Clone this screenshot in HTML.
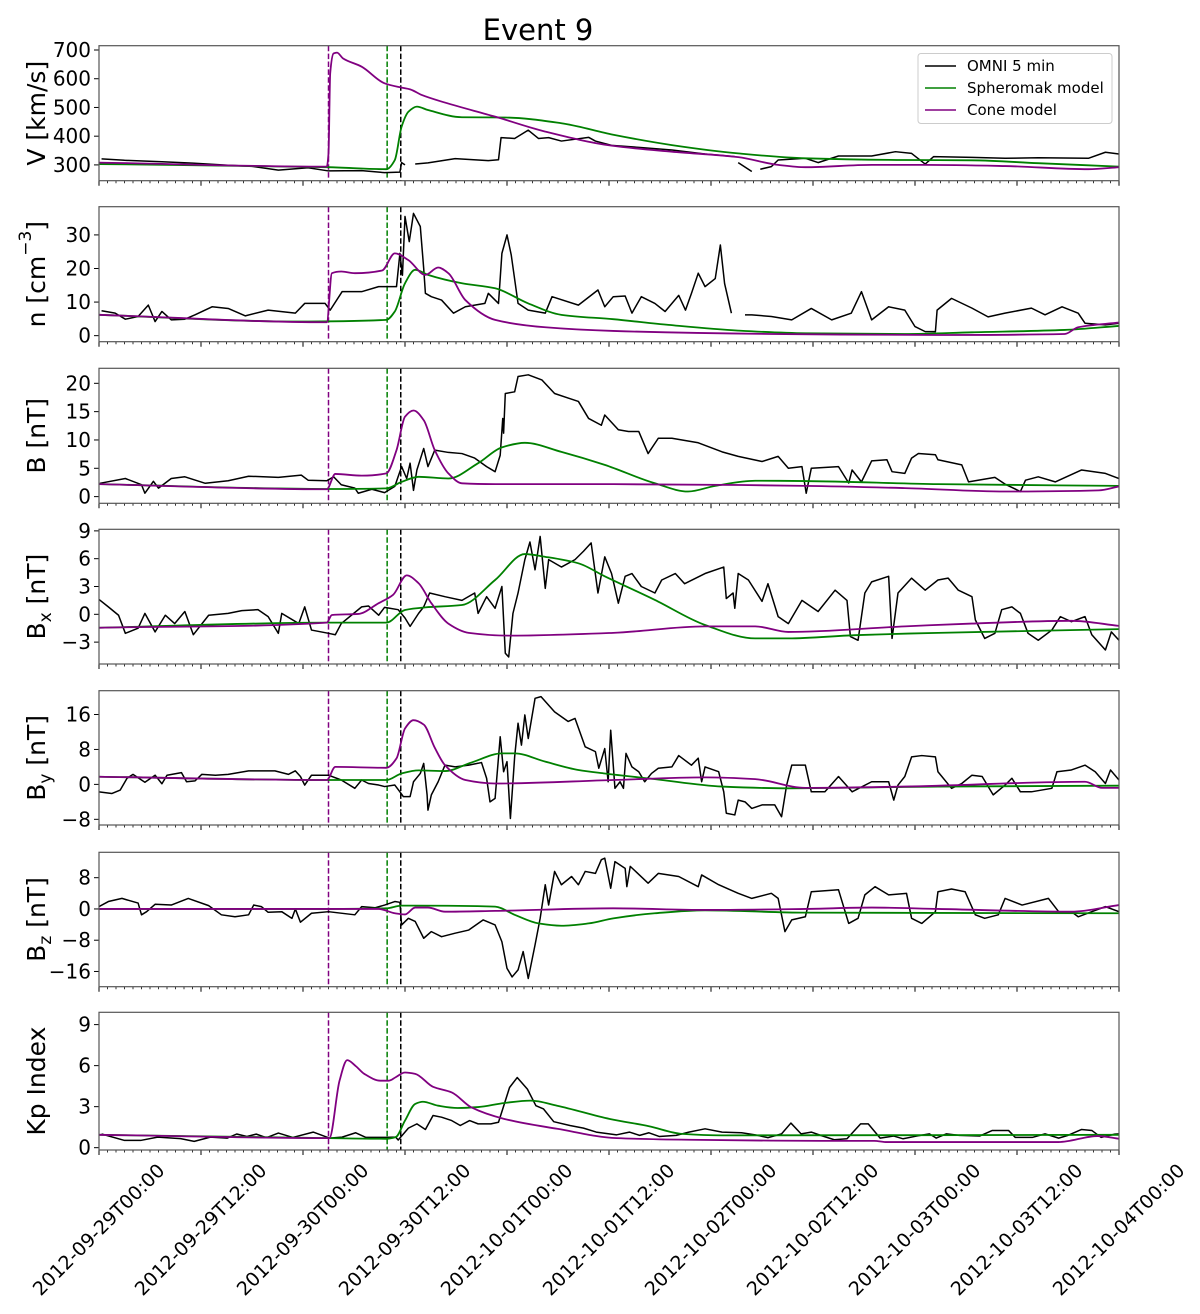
<!DOCTYPE html>
<html><head><meta charset="utf-8"><title>Event 9</title>
<style>
html,body{margin:0;padding:0;background:#fff;}
svg{display:block;font-family:"DejaVu Sans","Liberation Sans",sans-serif;}
</style></head>
<body>
<svg id="fig" width="1200" height="1314" viewBox="0 0 1200 1314" xmlns="http://www.w3.org/2000/svg">
<rect x="0" y="0" width="1200" height="1314" fill="#fff"/>
<text x="538" y="40" font-size="29" text-anchor="middle" fill="#000">Event 9</text>
</svg>
<script>
// ---------- time axis ----------
const xTickLabels = ["2012-09-29T00:00","2012-09-29T12:00","2012-09-30T00:00","2012-09-30T12:00","2012-10-01T00:00","2012-10-01T12:00","2012-10-02T00:00","2012-10-02T12:00","2012-10-03T00:00","2012-10-03T12:00","2012-10-04T00:00"];
const eventLineHours = [27, 33.9, 35.5];
// ---------- panel 1: V ----------
const vOmniT = [0.3,3,7.4,11,15.2,18,21.1,24.6,27,30.9,33.6,35.4,35.6,36,36.5,37.2,38.7,41.9,45.8,47,47.3,48.9,50.5,51.7,52.9,54.4,57.6,58.4,60.3,63.5,67.4,71.3,74.8,75,75.2,76.8,77.3,77.8,79.1,79.9,83.1,84.6,87,90.9,93.7,95.6,97.2,98.2,102.7,106.6,110.5,116.4,118.4,120];
const vOmni = [321,316,311,306,299,295,282,290,279,280,273,275,308,300,null,303,307,322,315,318,395,392,421,392,395,383,396,383,368,361,352,338,329,null,308,277,null,285,294,317,323,308,331,331,346,340,303,329,326,323,325,323,344,338];
const vSphT = [0,27,33.8,34.8,35.6,36.4,37.4,38.7,42.7,47.8,54.4,60.5,67.4,75.2,83.1,94.8,102.7,110.5,120];
const vSph = [303,292,285,317,433,485,503,491,466,465,445,405,369,340,323,317,316,306,294];
const vConeT = [0,26.8,27,27.2,27.6,28,28.7,30.9,33.6,35.6,36.6,38,40.7,46.6,52.5,60.3,67.4,75.2,79.9,83.1,90.9,97.2,106.6,116.4,120];
const vCone = [308,294,340,619,688,691,671,642,584,569,563,543,517,468,416,367,346,327,300,292,300,300,296,285,292];
const vTicks = [300,400,500,600,700];
// ---------- panel 2: n ----------
const nOmniT = [0.3,1.9,3.1,4.6,5.8,6.6,7.4,8.5,10.1,11.3,13.3,15.2,17.2,19.9,23.1,24.2,26.6,27.2,28.6,30.9,32.9,35,35.4,35.7,36,36.5,37,37.8,38.2,38.4,39.1,40.3,41.7,43.1,45.4,45.8,47,47.4,48,48.5,49.3,50.5,52.5,53.3,56.4,58.7,59.5,60.5,61.9,62.7,63.8,65.4,66.6,68.2,69,69.7,70.5,71.3,72.5,73.1,73.6,74.4,75,76,76.8,79.1,81.5,83.8,86.2,88.5,89.7,90.9,92.9,94.8,96,97.2,98.4,98.6,100.3,102.7,104.6,106.6,109.7,111.3,113.3,115.2,116,118.4,120];
const nOmni = [7.4,6.7,4.9,5.7,9.1,4.2,7.2,4.7,4.9,6.2,8.6,8.1,5.9,7.6,6.7,9.6,9.6,7.6,13.1,13.1,14.6,14.6,24.5,18,35.5,28,36.4,32.5,20,12.6,11.6,10.6,6.7,8.6,9.6,12.6,9.6,24.5,30,24,9.6,7.6,6.7,11.6,9.1,13.6,8.6,11.6,11.8,6.7,11.6,9.6,7.2,12,7.6,12.6,18.6,14.6,17,27,15.5,6.7,null,6.2,6.2,5.7,4.7,8.1,4.7,6.7,13.1,4.7,8.6,7.6,2.7,1.2,1.2,7.6,11.1,8.2,5.6,6.7,8.2,6.2,8.6,6.7,3.7,3.2,3.7];
const nSphT = [0,23.1,33.8,34.8,36,37.2,38.7,42.7,46.6,50.5,54.4,60.5,67,75.2,83.1,94.8,102.7,113.6,120];
const nSph = [6.2,4.2,4.7,7.2,15.6,19.6,18.1,15.6,14.1,9.6,6.2,4.9,3.2,1.5,0.7,0.5,1.0,1.7,2.9];
const nConeT = [0,26.8,27.4,28.5,30.1,33.3,34.8,36.4,38.4,39.9,41.1,43.1,46.6,52.5,60.5,79.1,98.7,113.6,115.2,120];
const nCone = [6.2,4,18.6,19.1,18.6,19.4,24.5,22.5,18.1,20.3,18.6,10.6,4.7,2.5,1.4,0.5,0.2,0.5,2.5,3.9];
const nTicks = [0,10,20,30];
// ---------- panel 3: B ----------
const bOmniT = [0.1,3.1,5,5.4,6.4,7,8.5,10.1,12.5,15.2,17.6,21.1,23.8,24.6,26.8,27.6,28.5,30.1,30.5,32.1,33.6,34.8,35.6,36.2,36.6,37,37.4,38.2,38.7,39.5,41.1,42.7,44.2,45.6,46.6,47.2,47.5,47.6,47.8,48.9,49.3,50.5,52.1,53.6,55.2,56.4,57.6,59.1,59.5,61.1,62.3,63.5,64.6,65.8,67.4,70.5,73.3,75.2,78,79.9,81.1,82.7,83.2,83.8,87,88.2,88.6,89.7,90.9,92.7,93.3,94.8,95.6,96.4,98.4,98.7,101.5,102.3,105.4,106.6,108.4,109,110.5,112.5,115.6,118.4,120];
const bOmni = [2.35,3.2,2.1,0.6,2.7,1.5,3.2,3.5,2.35,2.8,3.6,3.4,3.8,2.9,2.8,3.5,2.1,1.5,0.6,1.3,0.7,1.8,5.3,3.2,5.9,1.1,4.7,8.5,5.3,8.2,7.8,7.6,6.8,5.3,4.4,7.3,13.8,11.2,18.2,18.5,21.2,21.5,20.6,18.2,17.4,16.8,13.8,12.6,14.4,11.8,11.5,11.5,7.6,10.3,10.3,9.5,7.9,7.1,6.2,7.1,5.0,5.3,0.6,5.0,5.3,2.4,4.7,2.6,6.3,6.5,4.4,4.1,6.8,7.6,7.4,6.5,5.6,2.6,3.4,2.2,0.9,2.9,3.5,2.6,4.7,4.1,3.2];
const bSphT = [0,26.8,33.8,35.6,37.6,41.1,44.6,47.4,50.1,54.4,59.5,65.4,69.3,72.5,77.2,83.1,98.7,120];
const bSph = [2.2,1.35,1.45,2.6,3.5,3.2,5.9,8.7,9.5,7.9,5.6,2.35,0.9,1.9,2.8,2.75,2.2,1.9];
const bConeT = [0,26.8,27.8,30.9,33.8,35,36,37,38.2,39.5,41.1,42.7,46.6,60.5,83.1,94.8,106.6,117.6,120];
const bCone = [2.2,1.3,4.0,3.7,4.1,8.2,14.1,15.2,13.5,8.2,4.1,2.35,2.2,2.2,1.9,1.5,0.9,1.1,1.8];
const bTicks = [0,5,10,15,20];
// ---------- panel 4: Bx ----------
const bxOmniT = [0,1.1,2.3,3.1,4.6,5.4,6.6,7.8,8.9,10.1,11.1,12.9,15.2,16.8,18.7,19.9,21.1,21.5,23.5,24.2,25,27,27.8,28.5,30.9,31.7,32.9,33.6,35.2,36,36.6,37.6,38.2,38.9,40.7,42.7,44.2,44.6,45.6,46.6,47.4,47.8,48.2,48.7,49.3,50.1,50.7,51.3,51.9,52.5,52.9,54.4,56,57,57.9,58.7,59.5,60.3,61.1,61.9,62.7,63.8,65.4,66.2,67.8,68.9,71.3,73.5,73.8,74.6,74.8,75.2,76.4,78,78.7,79.9,81.1,82.7,84.6,86.6,88,88.4,89.3,90.1,90.9,92.9,93.3,94,95.6,97.2,98.7,99.9,101.1,102.7,103.1,104.2,105.4,106.2,107.4,108.4,109.3,110.5,112.1,113.1,114.4,116,116.8,118.4,119.1,120];
const bxOmni = [1.6,0.8,-0.1,-2.05,-1.5,0.1,-1.9,-0.1,-1.0,0.3,-2.2,-0.1,0.1,0.4,0.5,-0.25,-2.05,0.1,-1.0,0.8,-1.7,-2.05,-2.2,-1.0,0.8,0.9,-0.1,0.75,0.5,-0.4,-1.3,0.1,0.8,2.3,1.9,1.5,2.3,0.1,1.9,0.65,3.0,-4.2,-4.6,0.1,2.3,5.9,7.8,4.8,8.4,2.8,5.9,5.1,5.9,6.8,7.7,2.3,6.2,4.4,1.2,4.1,4.4,3.0,2.3,3.7,4.4,3.3,4.4,5.1,1.7,2.3,0.65,4.4,3.7,1.4,3.3,-0.25,-1.0,1.5,0.3,2.6,1.5,-2.4,-2.8,2.3,3.5,4.1,-2.6,2.3,3.9,2.6,3.7,3.9,2.6,1.9,-0.6,-2.6,-2.05,0.5,0.8,0.1,-2.05,-2.8,-1.7,-0.25,-0.8,-0.25,-2.2,-3.85,-1.9,-2.8];
const bxSphT = [0,26.8,33.8,36,38.4,42.7,46.6,50.1,52.5,56.4,59.5,65.4,71.3,77.2,81.1,88.9,98.7,120];
const bxSph = [-1.45,-0.9,-0.9,0.47,0.75,1.0,3.7,6.5,6.2,5.5,4.1,1.55,-1.15,-2.6,-2.6,-2.25,-2.0,-1.6];
const bxConeT = [0,26.8,27.4,30.5,32.9,34.6,36.2,37.6,39.1,41.1,43.5,48.2,60.5,71.3,77.2,81.1,94.8,102.7,114.4,120];
const bxCone = [-1.45,-0.9,-0.07,0.04,1.2,2.1,4.2,3.35,1.2,-1.0,-2.0,-2.3,-2.0,-1.3,-1.3,-1.9,-1.3,-1.0,-0.7,-1.25];
const bxTicks = [-3,0,3,6,9];
// ---------- panel 5: By ----------
const byOmniT = [0,1.5,2.5,3.3,4,5.4,6.6,7.4,8,9.7,10.3,11.3,12.1,13.7,15.2,17.6,20.7,22.3,23.1,23.7,24.2,25,27,28.5,30.1,30.9,31.7,32.9,33.6,34.8,35.4,35.8,36.6,37,37.8,38.2,38.6,38.7,39.1,39.9,40.7,41.9,43.5,45,45.6,46,46.6,47.2,47.6,48,48.4,48.9,49.3,49.7,50.1,50.5,51.3,52,53.6,55.2,56,57.2,58.4,58.8,59.5,59.9,60.2,60.7,61.3,61.7,62,62.7,63.5,64.2,65,65.8,67.4,68.2,69.7,70.5,70.9,71.3,72.9,73.5,73.8,74.8,75.2,76,76.8,78,79.5,80.3,80.9,81.5,83.1,83.8,85.4,87,88.6,90.9,92.9,93.5,94,94.8,95.6,96.8,98.4,98.7,100.3,101.5,102.7,103.9,105.2,106.6,107.4,108.4,109.7,112.1,112.7,114.4,116,117.2,118.4,119,120];
const byOmni = [-1.7,-2.1,-1.3,1.4,2.3,0.5,2.1,0.15,2.1,2.7,0.6,0.8,2.3,2.1,2.3,3.1,3.1,2.3,3.1,1.8,-0.15,2.1,2.1,1.0,-0.9,1.0,0.2,-0.15,-0.5,-0.15,-1.7,-2.8,-2.8,0.6,2.5,4.8,-2.4,-5.9,-2.4,0.6,4.4,4.0,4.4,5.0,1.4,-4.0,-3.2,10.9,2.9,5.2,-7.8,6.3,14,9,15.9,10.5,19.7,20.1,16.6,14.4,15.1,8.6,7.5,3.7,8.2,0.6,12.4,-0.9,0.6,-0.9,7.1,4.0,2.9,0.6,2.5,3.7,4.0,6.6,4.4,6.0,0.6,4.0,2.9,-1.7,-6.6,-7.0,-3.6,-4.0,-5.5,-4.7,-4.7,-7.4,-0.15,4.4,4.4,-1.7,-1.7,1.8,-1.7,0.6,0.6,-3.6,-0.15,1.8,6.3,6.6,6.3,2.9,-0.9,0.2,2.1,1.8,-2.4,-0.15,1.4,-1.7,-1.7,-0.9,2.9,3.3,4.4,2.9,0.2,3.3,1.0];
const bySphT = [0,26.8,33.8,35.6,37.6,40.7,43.8,47.4,48.9,52.5,56.4,59.5,65.4,73.3,81.1,98.7,120];
const bySph = [1.75,1.0,1.0,2.5,3.2,3.05,5.0,7.1,7.1,5.2,3.3,2.5,1.2,-0.5,-0.9,-0.5,-0.3];
const byConeT = [0,26.8,27.8,33.8,35,36,37,38.2,39.5,40.7,43.1,46.6,60.5,71.3,77.2,83.1,94.8,116,118,120];
const byCone = [1.75,1.0,4.0,3.8,5.95,12.8,14.7,13.7,8.4,4.4,1.0,0.2,1.0,1.6,1.2,-0.8,-0.5,0.6,-0.8,-0.8];
const byTicks = [-8,0,8,16];
// ---------- panel 6: Bz ----------
const bzOmniT = [0,1.1,2.7,4.6,5,5.6,6.6,8.5,10.5,12.9,14.4,16,17.6,18.2,19.1,19.9,21.5,22.7,23.1,23.7,25,27,30.1,30.9,32.5,33.6,34.8,35.4,35.6,36.4,37.2,38.2,39.1,40.3,41.9,43.5,45.2,46.6,47.4,48,48.6,49.3,49.9,50.5,51.3,51.9,52.5,52.9,53.6,54.4,55.6,56.4,57.2,58.4,59.1,59.5,60.2,60.7,61.9,62.1,62.5,64.6,65.8,68.2,70.5,70.9,72.9,75.2,76.8,79.1,79.9,80.7,81.5,83.1,83.8,87,88.2,89.3,90.1,91.3,92.9,95,95.6,96.8,98.4,98.7,100.3,101.9,103.1,104.2,105.8,106.6,108.6,111.7,112.9,114.4,115.2,116.8,118.4,120];
const bzOmni = [0.6,1.9,2.7,1.5,-1.5,-0.7,1.2,1.0,2.7,0.85,-1.5,-2.0,-1.5,1.0,0.6,-0.85,-0.7,-2.4,0,-3.4,-1.1,-0.7,-1.5,0.6,0.3,1.0,1.9,1.7,-4.1,-2.4,-3.2,-7.5,-5.8,-7.1,-6.2,-5.4,-2.8,-4.1,-8.4,-15.2,-17.4,-15.6,-10.9,-17.8,-9.2,-2.4,6.2,1.0,9.6,6.2,8.3,6.2,9.6,9.1,12.6,13.0,5.3,12.1,10.4,5.7,10.9,6.6,9.1,8.3,5.7,8.7,6.2,4.0,2.7,4.0,2.7,-5.8,-2.8,-2.0,4.4,4.9,-3.7,-2.4,3.6,5.7,3.6,4.0,-2.4,-3.7,-0.7,4.4,5.1,4.4,-1.5,-2.4,-1.5,2.7,1.0,2.7,-0.7,-0.7,-2.0,-0.7,0.6,-0.7];
const bzSphT = [0,27,33.8,35.6,37.2,46.6,48.9,51.7,54.4,57.6,60.5,65.4,71.3,83.1,120];
const bzSph = [0,0,0.17,0.85,0.85,0.6,-1.5,-3.7,-4.3,-3.7,-2.4,-1.1,-0.35,-0.95,-1.1];
const bzConeT = [0,32.9,34.8,36,37.2,38.7,40.7,46.6,60.5,71.3,83.1,90.9,98.7,114.4,120];
const bzCone = [0,0,-1.1,-1.4,0.35,0.35,-0.7,-0.5,0.17,-0.25,0,0.35,0,-0.7,1.0];
const bzTicks = [-16,-8,0,8];
// ---------- panel 7: Kp ----------
const kpOmniT = [0.3,3,4.9,6.9,9.6,11.2,13.1,15.1,16.2,17.4,18.5,19.7,21.1,22.8,25.2,27.1,28.6,30.2,31.4,33.7,34.9,35.2,36.4,37.4,38.4,39.3,40.3,41.5,42.5,43.6,44.6,46.1,47,48.3,49.2,50.4,51.4,52.3,53.5,55.4,57,58.5,60.9,62.4,63.6,64.7,65.9,67.9,69.4,71.3,73.3,75.6,77.2,78.7,80.3,81.4,82.6,83.8,84.9,86.5,88,89.6,90.5,91.9,93.5,94.6,96.2,97.7,98.5,99.7,101.2,103.6,105.1,107,107.8,109.8,111.3,112.9,114,115.6,116.8,117.9,119.5,120];
const kpOmni = [1.0,0.53,0.53,0.77,0.66,0.46,0.77,0.7,1.0,0.82,0.99,0.73,1.07,0.75,1.14,0.7,0.77,1.09,0.75,0.75,0.77,0.56,1.43,1.74,1.33,2.35,2.23,1.98,1.62,1.98,1.74,1.74,1.86,4.4,5.13,4.28,3.07,2.83,1.9,1.62,1.43,1.14,0.94,1.14,0.9,1.09,0.82,0.9,1.14,1.38,1.14,1.09,0.94,0.73,1.01,1.8,1.01,1.14,0.9,0.58,0.65,1.74,1.74,0.7,0.85,0.65,0.85,1.01,0.7,1.01,0.9,0.85,1.26,1.26,0.75,0.75,1.01,0.7,0.9,1.33,1.26,0.75,0.99,1.01];
const kpSphT = [0,27.1,33.7,34.9,36,37.2,38.1,39.9,42.2,44.6,47.7,50.8,53.9,60.1,64.7,68.6,73.3,120];
const kpSph = [0.94,0.7,0.65,0.77,1.98,3.2,3.36,3.07,2.9,2.97,3.27,3.44,3.07,2.1,1.57,1.01,0.9,0.94];
const kpConeT = [0,27.1,28.3,29.2,30.2,31.2,33.1,34.1,34.9,36,37.2,39.3,41.5,43.8,47.7,53.9,60.9,69.4,84.9,91.2,92.7,112.9,117.5,120];
const kpCone = [0.94,0.7,4.9,6.4,5.97,5.4,4.9,4.9,5.15,5.5,5.4,4.45,4.04,2.95,2.1,1.38,0.7,0.58,0.5,0.5,0.41,0.41,0.85,0.65];
const kpTicks = [0,3,6,9];

// ---------- layout ----------
const NS = "http://www.w3.org/2000/svg";
const svg = document.getElementById("fig");
const X0 = 99, X1 = 1119, HMAX = 120;
function xS(h){ return X0 + h * (X1 - X0) / HMAX; }
function mk(tag, attrs, parent){
  const e = document.createElementNS(NS, tag);
  for (const k in attrs) e.setAttribute(k, attrs[k]);
  (parent || svg).appendChild(e);
  return e;
}
const panels = [
  {key:"v", top:45.7, bot:180.7, ymin:245, ymax:715, ticks:vTicks, omniT:vOmniT, omni:vOmni, sphT:vSphT, sph:vSph, coneT:vConeT, cone:vCone, label:[["V [km/s]"]]},
  {key:"n", top:206.7, bot:341.7, ymin:-1.8, ymax:38.4, ticks:nTicks, omniT:nOmniT, omni:nOmni, sphT:nSphT, sph:nSph, coneT:nConeT, cone:nCone, label:[["n [cm"],["−3","sup"],["]"]]},
  {key:"b", top:368.3, bot:503.3, ymin:-1.18, ymax:22.65, ticks:bTicks, omniT:bOmniT, omni:bOmni, sphT:bSphT, sph:bSph, coneT:bConeT, cone:bCone, label:[["B [nT]"]]},
  {key:"bx", top:529.3, bot:664, ymin:-5.36, ymax:9.17, ticks:bxTicks, omniT:bxOmniT, omni:bxOmni, sphT:bxSphT, sph:bxSph, coneT:bxConeT, cone:bxCone, label:[["B"],["x","sub"],[" [nT]"]]},
  {key:"by", top:690.7, bot:825, ymin:-9.3, ymax:21.45, ticks:byTicks, omniT:byOmniT, omni:byOmni, sphT:bySphT, sph:bySph, coneT:byConeT, cone:byCone, label:[["B"],["y","sub"],[" [nT]"]]},
  {key:"bz", top:852.3, bot:986.7, ymin:-19.9, ymax:14.5, ticks:bzTicks, omniT:bzOmniT, omni:bzOmni, sphT:bzSphT, sph:bzSph, coneT:bzConeT, cone:bzCone, label:[["B"],["z","sub"],[" [nT]"]]},
  {key:"kp", top:1012.3, bot:1150, ymin:-0.17, ymax:9.9, ticks:kpTicks, omniT:kpOmniT, omni:kpOmni, sphT:kpSphT, sph:kpSph, coneT:kpConeT, cone:kpCone, label:[["Kp Index"]]}
];
const defs = mk("defs", {});

function polyPath(ts, vs, yS){
  let d = "", pen = false;
  for (let i = 0; i < ts.length; i++){
    if (vs[i] === null || vs[i] === undefined){ pen = false; continue; }
    d += (pen ? "L" : "M") + xS(ts[i]).toFixed(2) + "," + yS(vs[i]).toFixed(2);
    pen = true;
  }
  return d;
}
// monotone cubic (Fritsch-Carlson) in pixel space: no overshoot
function smoothPath(ts, vs, yS){
  const n = ts.length;
  const x = ts.map(xS), y = vs.map(yS);
  const dx = [], s = [];
  for (let i = 0; i < n-1; i++){ dx.push(x[i+1]-x[i]); s.push((y[i+1]-y[i])/(dx[i]||1e-6)); }
  const m = new Array(n);
  m[0] = s[0]; m[n-1] = s[n-2];
  for (let i = 1; i < n-1; i++){
    if (s[i-1]*s[i] <= 0) m[i] = 0;
    else {
      const w1 = 2*dx[i] + dx[i-1], w2 = dx[i] + 2*dx[i-1];
      m[i] = (w1 + w2) / (w1/s[i-1] + w2/s[i]);
    }
  }
  let d = "M" + x[0].toFixed(2) + "," + y[0].toFixed(2);
  for (let i = 0; i < n-1; i++){
    const h = dx[i]/3;
    d += "C" + (x[i]+h).toFixed(2) + "," + (y[i]+m[i]*h).toFixed(2) + " " + (x[i+1]-h).toFixed(2) + "," + (y[i+1]-m[i+1]*h).toFixed(2) + " " + x[i+1].toFixed(2) + "," + y[i+1].toFixed(2);
  }
  return d;
}
function fmt(v){ return v < 0 ? "\u2212" + Math.abs(v) : String(v); }

panels.forEach((P, pi) => {
  const yS = v => P.bot - (v - P.ymin) * (P.bot - P.top) / (P.ymax - P.ymin);
  const g = mk("g", {});
  
  
  const cp = mk("clipPath", {id:"clip-" + P.key}, defs);
  mk("rect", {x:X0, y:P.top, width:X1-X0, height:P.bot-P.top}, cp);

  P.ticks.forEach(v => {
    const y = yS(v);
    const t = mk("line", {x1:X0-5, x2:X0, y1:y, y2:y, stroke:"#000", "stroke-width":1}, g);
    
    
    const lb = mk("text", {x:X0-8, y:y, "font-size":20, "text-anchor":"end", "dominant-baseline":"central", fill:"#000"}, g);
    
    
    lb.textContent = fmt(v);
  });
  for (let h = 0; h <= HMAX; h++){
    const major = h % 12 === 0;
    const x = xS(h);
    const t = mk("line", {x1:x, x2:x, y1:P.bot, y2:P.bot + (major ? 5 : 2.5), stroke:"#000", "stroke-width": major ? 1 : 0.8}, g);
    
    
  }
  const yl = mk("text", {x:0, y:0, "font-size":25, "text-anchor":"middle", "dominant-baseline":"central", fill:"#000", transform:"translate(36," + ((P.top+P.bot)/2) + ") rotate(-90)"}, g);
  
  
  P.label.forEach(part => {
    const ts = mk("tspan", {}, yl);
    if (part[1] === "sup"){ ts.setAttribute("baseline-shift","super"); ts.setAttribute("font-size","17"); }
    if (part[1] === "sub"){ ts.setAttribute("baseline-shift","sub"); ts.setAttribute("font-size","17"); }
    ts.textContent = part[0];
  });

  const lines = mk("g", {"clip-path":"url(#clip-" + P.key + ")"}, g);
  const evColors = ["#800080", "#008000", "#000000"];
  eventLineHours.forEach((h, i) => {
    const l = mk("line", {x1:xS(h), x2:xS(h), y1:P.top, y2:P.bot, stroke:evColors[i], "stroke-width":1.5, "stroke-dasharray":"5.5,2.4"}, lines);
    
    
  });
  const omniL = mk("path", {d:polyPath(P.omniT, P.omni, yS), fill:"none", stroke:"#000", "stroke-width":1.5, "stroke-linejoin":"round"}, lines);
  
  
  const sphL = mk("path", {d:smoothPath(P.sphT, P.sph, yS), fill:"none", stroke:"#008000", "stroke-width":1.8}, lines);
  
  
  const coneL = mk("path", {d:smoothPath(P.coneT, P.cone, yS), fill:"none", stroke:"#800080", "stroke-width":1.8}, lines);
  
  

  const fr = mk("rect", {x:X0, y:P.top, width:X1-X0, height:P.bot-P.top, fill:"none", stroke:"#555", "stroke-width":1.2}, g);
  
  
});

const lastBot = panels[panels.length-1].bot;
xTickLabels.forEach((s, i) => {
  const x = xS(i * 12);
  const cy = lastBot + 10 + 70;
  const t = mk("text", {x:0, y:0, "font-size":19, "text-anchor":"middle", "dominant-baseline":"central", fill:"#000", transform:"translate(" + x + "," + cy + ") rotate(-45)"});
  
  
  t.textContent = s;
});

const lg = mk("g", {});


mk("rect", {x:918, y:53.5, width:194, height:70, rx:3, fill:"#fff", "fill-opacity":0.8, stroke:"#ccc", "stroke-width":1}, lg);
const legNames = ["OMNI 5 min", "Spheromak model", "Cone model"];
const legColors = ["#000", "#008000", "#800080"];
legNames.forEach((n, i) => {
  const y = 66 + i * 22;
  const e = mk("g", {}, lg);
  
  
  mk("line", {x1:925, x2:956, y1:y, y2:y, stroke:legColors[i], "stroke-width":1.6}, e);
  const t = mk("text", {x:967, y:y, "font-size":15, "dominant-baseline":"central", fill:"#000"}, e);
  t.textContent = n;
});
</script>
</body></html>
